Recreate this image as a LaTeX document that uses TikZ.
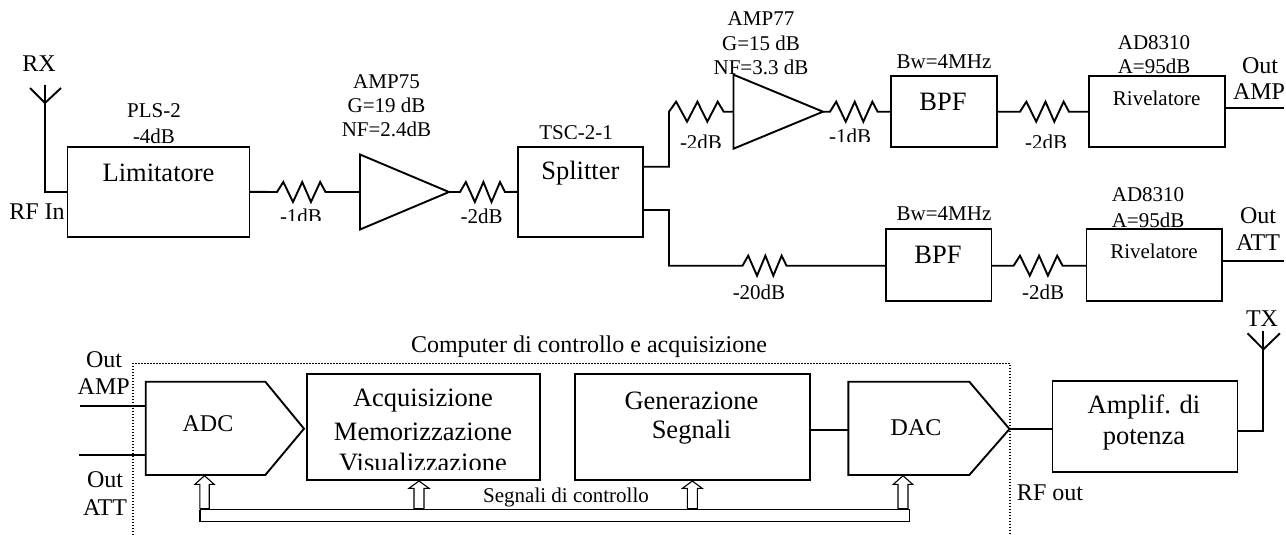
\documentclass[tikz,border=0pt]{standalone}
\usepackage{fontspec}
\setmainfont{Liberation Serif}
\usetikzlibrary{calc,shapes.geometric}
\newcommand{\smalltxt}{\fontsize{21}{23}\selectfont}
\newcommand{\midtxt}{\fontsize{24}{26}\selectfont}
\newcommand{\bigtxt}{\fontsize{26.5}{29}\selectfont}
\tikzset{
  x=1pt,y=-1pt,
  wire/.style={line width=1.9pt,line join=miter},
  blk/.style={draw,line width=1.9pt,rectangle,inner sep=0pt,outer sep=0pt},
  amp/.style={draw,line width=1.9pt,isosceles triangle,isosceles triangle stretches,shape border rotate=0,inner sep=0pt,outer sep=0pt,anchor=apex},
  lab/.style={inner sep=0pt,outer sep=0pt,font=\smalltxt},
  labm/.style={inner sep=0pt,outer sep=0pt,font=\midtxt},
  labb/.style={inner sep=0pt,outer sep=0pt,font=\bigtxt},
  res/.style={to path={
     -- ($(\tikztostart)!.13!(\tikztotarget)+(0,-10)$)
     -- ($(\tikztostart)!.33!(\tikztotarget)+(0,10)$)
     -- ($(\tikztostart)!.52!(\tikztotarget)+(0,-10)$)
     -- ($(\tikztostart)!.70!(\tikztotarget)+(0,10)$)
     -- ($(\tikztostart)!.89!(\tikztotarget)+(0,-10)$)
     -- (\tikztotarget)}},
  hollow/.style={draw,fill=white,line width=1.1pt,line join=miter},
}
% box by its corners: name, x1, y1, x2, y2
\newcommand{\blockbox}[5]{\node[blk,minimum width={(#4-#2)*1pt},minimum height={(#5-#3)*1pt}] (#1) at ({(#2+#4)/2},{(#3+#5)/2}) {};}
% label cut off below a given y: style, name, x, y, cut y, text
\newcommand{\cutlabel}[6]{\begin{scope}\clip ({#3-130},{#4-40}) rectangle ({#3+130},#5);\node[#1] (#2) at (#3,#4) {#6};\end{scope}}
% hollow arrow: x, tip, head base, half head, half shaft, foot
\newcommand{\hollowarrow}[6]{\draw[hollow] (#1,#2) -- ({#1+#4},#3) -- ({#1+#5},#3) -- ({#1+#5},#6) -- ({#1-#5},#6) -- ({#1-#5},#3) -- ({#1-#4},#3) -- cycle;
  \draw[line width=2.2pt] ({#1-#5},#6) -- ({#1+#5},#6);}
\begin{document}
\begin{tikzpicture}
\useasboundingbox (0,0) rectangle (1286,535);

% ---------- upper chain
\blockbox{lim}{67.5}{146.7}{249.5}{237}
\blockbox{spl}{518}{146.7}{643}{237}
\blockbox{bpfa}{891}{76}{997}{147.3}
\blockbox{riva}{1089}{76}{1225}{147.3}
\blockbox{bpfb}{885.6}{229.3}{991.5}{301}
\blockbox{rivb}{1086.5}{229.3}{1222.4}{301}
\node[amp,minimum width=75pt,minimum height=89pt] (ampa) at (449,192) {};
\node[amp,minimum width=74pt,minimum height=89.5pt] (ampb) at (823,111.7) {};

% RX antenna
\coordinate (rxtop) at (45,85);
\coordinate (rxj) at (45,103);
\coordinate (rxl) at (30,88);
\coordinate (rxr) at (61,88);
\coordinate (rxb) at (45,192);
\coordinate (limin) at (67.5,192);
\draw[wire] (rxl) -- (rxj) -- (rxr) (rxtop) -- (rxb) -- (limin);

% resistor ends
\coordinate (r1a) at (277,192);   \coordinate (r1b) at (325.5,192);
\coordinate (r2a) at (460,192);   \coordinate (r2b) at (505,192);
\coordinate (r3a) at (669,111.7); \coordinate (r3b) at (723.7,111.7);
\coordinate (r4a) at (830,111.7); \coordinate (r4b) at (877.6,111.7);
\coordinate (r5a) at (1020,111.7);\coordinate (r5b) at (1069,111.7);
\coordinate (r6a) at (742.5,265.7);\coordinate (r6b) at (786.5,265.7);
\coordinate (r7a) at (1013.6,265.7);\coordinate (r7b) at (1062.6,265.7);

\draw[wire] (lim.east) -- (r1a) to[res] (r1b) -- (ampa.lower side);
\draw[wire] (ampa.apex) -- (r2a) to[res] (r2b) -- (spl.west);
\coordinate (s1) at (643,166.7);
\coordinate (s2) at (643,210);
\draw[wire] (s1) -- (r3a |- s1) -- (r3a) to[res] (r3b) -- (ampb.lower side);
\draw[wire] (ampb.apex) -- (r4a) to[res] (r4b) -- (bpfa.west |- r4b);
\draw[wire] (bpfa.east |- r5a) -- (r5a) to[res] (r5b) -- (riva.west |- r5b);
\draw[wire] (s2) -- (r3a |- s2) -- (r3a |- r6a) -- (r6a) to[res] (r6b) -- (bpfb.west |- r6b);
\draw[wire] (bpfb.east |- r7a) -- (r7a) to[res] (r7b) -- (rivb.west |- r7b);
\coordinate (oa) at (1284,108.3);
\coordinate (ob) at (1284,261);
\draw[wire] (riva.east |- oa) -- (oa);
\draw[wire] (rivb.east |- ob) -- (ob);

% labels upper
\node[labm] (trx) at (39,64) {RX};
\node[labm] (trfin) at (37,212) {RF In};
\node[lab] (tpls) at (154,111) {PLS-2};
\node[lab] (tplsb) at (154,136) {-4dB};
\node[labb] (tlim) at (158.5,172.7) {Limitatore};
\cutlabel{lab}{td1}{301}{216.7}{220}{-1dB}
\node[lab] (tamp75) at (386.5,81.7) {AMP75};
\node[lab] (tg19) at (386.5,105) {G=19 dB};
\node[lab] (tnf24) at (386.5,129) {NF=2.4dB};
\node[lab] (td2) at (481.6,216.7) {-2dB};
\cutlabel{lab}{ttsc}{576}{132.7}{138}{TSC-2-1}
\node[labb] (tspl) at (580.4,172.7) {Splitter};
\node[lab] (tamp77) at (761,19) {AMP77};
\node[lab] (tg15) at (761,43.3) {G=15 dB};
\node[lab] (tnf33) at (761,67.7) {NF=3.3 dB};
\cutlabel{lab}{td3}{701}{142.7}{147}{-2dB}
\cutlabel{lab}{td4}{850}{136}{141}{-1dB}
\cutlabel{lab}{td5}{1046}{142.7}{147}{-2dB}
\node[lab] (tbwa) at (944,61.7) {Bw=4MHz};
\node[labb] (tbpfa) at (943,101.7) {BPF};
\node[lab] (tada) at (1154,42.7) {AD8310};
\node[lab] (taa) at (1154,66.7) {A=95dB};
\node[lab] (triva) at (1156.7,98.3) {Rivelatore};
\node[labm] (toa) at (1260,66) {Out};
\node[labm] (tampo) at (1259,91.7) {AMP};
\node[lab] (tbwb) at (944,213.3) {Bw=4MHz};
\node[labb] (tbpfb) at (938,255) {BPF};
\node[lab] (tadb) at (1148,195) {AD8310};
\node[lab] (tab) at (1148,220.7) {A=95dB};
\node[lab] (trivb) at (1154,251.7) {Rivelatore};
\node[labm] (tob) at (1258,215.7) {Out};
\node[labm] (tatto) at (1258,242.3) {ATT};
\node[lab] (td6) at (759,292.7) {-20dB};
\cutlabel{lab}{td7}{1043}{292.7}{298}{-2dB}

% ---------- lower chain
\draw[line width=1.2pt,dash pattern=on 1.3pt off 1.7pt] (133,535) -- (133,363.3) -- (1010,363.3) -- (1010,535);
\node[lab,font=\fontsize{24}{26}\selectfont] (tcomp) at (589,346.7) {Computer di controllo e acquisizione};

\coordinate (adcw) at (145.7,428);
\coordinate (adcn) at (145.7,381.7);
\coordinate (adcs) at (145.7,475);
\draw[wire] (adcn) -- (265.3,381.7) -- (304,428.7) -- (265.3,475) -- (adcs) -- cycle;
\coordinate (ia) at (80.4,406);
\coordinate (ib) at (78.8,455.3);
\draw[wire] (ia) -- (adcw |- ia);
\draw[wire] (ib) -- (adcw |- ib);
\blockbox{acq}{307}{374}{539.6}{480.3}
\blockbox{gen}{574.7}{374}{810.3}{480.3}
\coordinate (dacw) at (848.4,430.3);
\coordinate (dace) at (1009.5,429);
\draw[wire] (848.4,381.7) -- (969.3,381.7) -- (dace) -- (969.3,475) -- (848.4,475) -- cycle;
\blockbox{pow}{1052.5}{381}{1237.5}{471.7}
\draw[wire] (gen.east |- dacw) -- (dacw);
\draw[wire] (dace) -- (pow.west |- dace);
\coordinate (txb) at (1263.4,431);
\coordinate (txtop) at (1263.4,330.7);
\coordinate (txj) at (1263.4,349.3);
\coordinate (txl) at (1247.5,333.3);
\coordinate (txr) at (1280,333.3);
\draw[wire] (pow.east |- txb) -- (txb) -- (txtop);
\draw[wire] (txl) -- (txj) -- (txr);

% control bus
\draw[line width=.8pt] (200,509.5) -- (909.5,509.5);
\draw[line width=1.2pt] (200,509.5) -- (200,521.3) -- (909.5,521.3) -- (909.5,509.5);
\hollowarrow{204.5}{475.7}{484.3}{9.6}{4.7}{508.8}
\hollowarrow{419}{481}{488.3}{10}{5}{508.8}
\hollowarrow{692.3}{481}{488.3}{9.8}{5}{508.8}
\hollowarrow{903}{475.7}{484.3}{9.6}{5}{508.8}

% labels lower
\node[labm] (to1) at (104,359.3) {Out};
\node[labm] (to2) at (103.7,386.7) {AMP};
\node[labm] (to3) at (105,480) {Out};
\node[labm] (to4) at (105,507.3) {ATT};
\node[labm] (tadc) at (208,423.3) {ADC};
\node[labb] (tq1) at (423,400.7) {Acquisizione};
\node[labb] (tq2) at (423,432.3) {Memorizzazione};
\cutlabel{labb}{tq3}{423}{462.7}{469}{Visualizzazione}
\node[labb] (tg1) at (691.5,400.7) {Generazione};
\node[labb] (tg2) at (691.5,432.3) {Segnali};
\node[labm] (tdac) at (916,427.3) {DAC};
\node[labb] (tp1) at (1144,407.3) {Amplif. di};
\node[labb] (tp2) at (1144,440) {potenza};
\node[labm] (ttx) at (1262,318.3) {TX};
\node[labm] (trfo) at (1050,492.7) {RF out};
\node[lab] (tseg) at (566,497.7) {Segnali di controllo};
\end{tikzpicture}
\end{document}
